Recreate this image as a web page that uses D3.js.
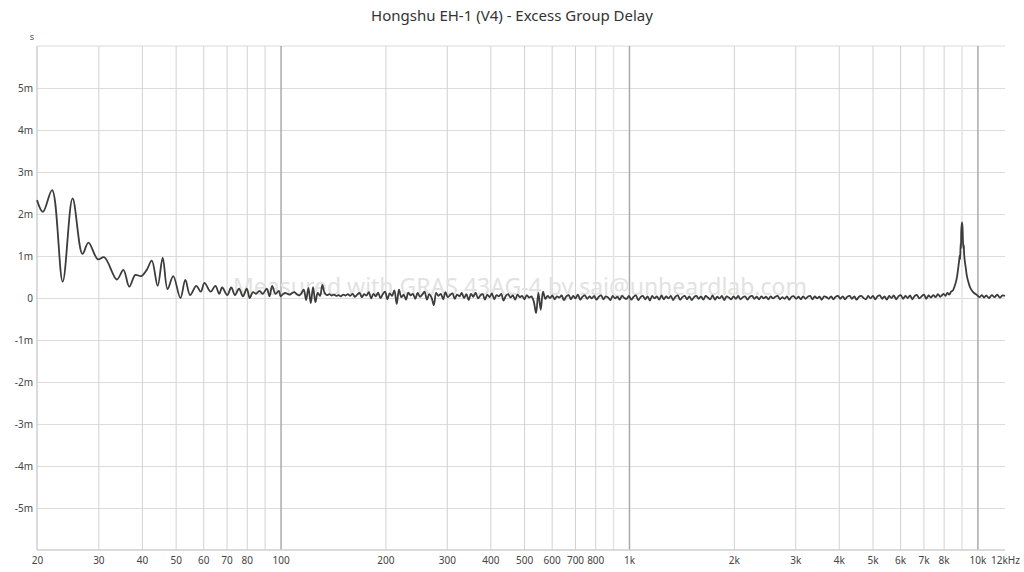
<!DOCTYPE html>
<html>
<head>
<meta charset="utf-8">
<script src="https://cdn.jsdelivr.net/npm/d3@7"></script>
<style>
  body { margin: 0; background: #fff; }
  svg { display: block; font-family: "Noto Sans", "Open Sans", sans-serif; }
</style>
</head>
<body>
<div id="chart"></div>
<script>
// chart values (delay in ms)
var lowHz = [20, 20.8, 22.1, 23.7, 25.3, 27.0, 28.1, 29.9, 31.2, 33.9, 35.4, 36.8, 38.3, 39.8,
  41.3, 42.7, 44.4, 45.9, 47.4, 49.2, 51.6, 53.3, 55, 57.3, 59, 60.5, 63, 65, 66.7, 68,
  70.3, 72.2, 74, 76, 78, 80, 81.6, 83.3, 85.1, 87, 88.9, 91.3, 93, 94.6, 96.7, 98.9];
var lowMs = [2.33, 2.05, 2.57, 0.39, 2.37, 1.05, 1.32, 0.92, 0.97, 0.44, 0.67, 0.27, 0.55, 0.52,
  0.67, 0.89, 0.29, 0.96, 0.21, 0.52, 0.00, 0.43, 0.07, 0.29, 0.15, 0.36, 0.15, 0.29, 0.10, 0.25,
  0.07, 0.25, 0.07, 0.22, 0.04, 0.22, 0.00, 0.14, 0.10, 0.17, 0.10, 0.22, 0.04, 0.29, 0.10, 0.17];

// measurement grid from 100 Hz, 150 points per decade
var gridStartHz = 100;
var gridPointsPerDecade = 150;
var noiseMs = [
  0.04, 0.09, 0.12, 0.10, 0.08, 0.12, 0.14, 0.09, 0.06, 0.11, 0.20, -0.05, 0.24, -0.12, 0.26,
  -0.10, 0.12, 0.05, 0.31, 0.12, 0.07, 0.09, 0.06, 0.08, 0.05, 0.07, 0.04, 0.08, 0.06, 0.09,
  0.05, 0.10, 0.03, 0.08, 0.12, 0.02, 0.09, 0.06, 0.14, -0.01, 0.10, 0.04, 0.13, 0.00, 0.09,
  0.15, -0.03, 0.11, 0.05, 0.18, -0.14, 0.20, 0.02, 0.08, -0.04, 0.13, 0.06, 0.10, -0.02, 0.12,
  0.03, 0.08, 0.15, -0.04, 0.09, 0.01, -0.17, 0.12, 0.05, 0.10, -0.03, 0.14, 0.02, 0.07, 0.11,
  -0.02, 0.08, 0.04, 0.12, 0.00, 0.09, -0.05, 0.10, 0.03, 0.13, -0.01, 0.06, 0.09, -0.04, 0.08,
  0.02, 0.11, -0.03, 0.07, 0.04, 0.10, -0.06, 0.05, 0.09, 0.01, 0.06, -0.04, 0.08, 0.02, 0.05,
  -0.03, 0.07, 0.01, 0.04, -0.08, -0.36, 0.12, -0.28, 0.15, -0.02, 0.05, 0.00, 0.06, -0.03, 0.04,
  0.01, 0.06, -0.05, 0.04, 0.07, -0.03, 0.05, -0.01, 0.08, -0.04, 0.03, 0.06, -0.02, 0.04, -0.01,
  0.05, -0.04, 0.03, 0.06, -0.03, 0.04, 0.01, -0.05, 0.05, -0.01, 0.03, -0.04, 0.05, 0.00, -0.02,
  0.05, -0.04, 0.03, 0.06, -0.05, 0.02, 0.05, -0.03, 0.04, -0.06, 0.05, -0.01, 0.04, -0.04, 0.06,
  -0.03, 0.04, -0.01, 0.05, -0.05, 0.03, 0.06, -0.04, 0.02, 0.05, -0.03, 0.04, -0.05, 0.02, 0.05,
  -0.02, 0.04, -0.04, 0.05, 0.01, -0.03, 0.06, -0.04, 0.03, -0.01, 0.05, -0.05, 0.04, 0.01, -0.03,
  0.04, -0.02, 0.05, -0.03, 0.02, 0.04, -0.04, 0.03, 0.05, -0.02, 0.03, -0.03, 0.04, -0.01, 0.03,
  -0.03, 0.04, -0.01, 0.03, 0.05, -0.03, 0.02, -0.02, 0.04, -0.04, 0.03, 0.04, -0.02, 0.03, -0.03,
  0.04, -0.02, 0.03, 0.05, -0.03, 0.04, -0.01, 0.03, -0.04, 0.04, 0.02, -0.02, 0.04, -0.03, 0.03,
  0.05, -0.02, 0.04, -0.03, 0.03, 0.05, -0.02, 0.04, -0.04, 0.03, 0.05, 0.00, -0.03, 0.05, -0.01,
  0.05, -0.03, 0.04, 0.06, -0.02, 0.04, -0.04, 0.05, 0.00, 0.06, -0.03, 0.04, 0.07, -0.02, 0.05,
  0.00, 0.06, -0.03, 0.05, 0.07, -0.01, 0.04, 0.08, -0.02, 0.06, 0.01, 0.07, 0.02, 0.09, 0.03
];

var peakHz = [7900, 8000, 8100, 8200, 8300, 8400, 8500, 8600, 8700, 8780, 8850, 8900, 8920,
  8950, 8970, 8990, 9030, 9060, 9090, 9120, 9140, 9160, 9200, 9260, 9330, 9420, 9520, 9640,
  9780, 9900, 10000, 10150, 10300, 10450, 10600, 10800, 11000, 11200, 11400, 11600, 11800, 12000];
var peakMs = [0.06, 0.10, 0.05, 0.12, 0.08, 0.15, 0.18, 0.28, 0.42, 0.62, 0.85, 1.02, 0.92,
  1.30, 1.18, 1.62, 1.80, 1.70, 1.35, 1.18, 1.26, 1.05, 0.88, 0.72, 0.52, 0.38, 0.26, 0.18,
  0.12, 0.09, 0.06, 0.02, 0.07, 0.01, 0.06, 0.00, 0.07, 0.02, 0.08, 0.01, 0.06, 0.05];

// axis ticks
var tickHz = [20, 30, 40, 50, 60, 70, 80, 100, 200, 300, 400, 500, 600, 700, 800,
  1000, 2000, 3000, 4000, 5000, 6000, 7000, 8000, 10000, 12000];
var tickLabels = ["20", "30", "40", "50", "60", "70", "80", "100", "200", "300", "400", "500",
  "600", "700", "800", "1k", "2k", "3k", "4k", "5k", "6k", "7k", "8k", "10k", "12kHz"];
var gridHz = [30, 40, 50, 60, 70, 80, 90, 200, 300, 400, 500, 600, 700, 800, 900,
  2000, 3000, 4000, 5000, 6000, 7000, 8000, 9000];
var majorHz = [100, 1000, 10000];
var yTicks = [-5, -4, -3, -2, -1, 0, 1, 2, 3, 4, 5];

var title = "Hongshu EH-1 (V4) - Excess Group Delay";
var watermark = "Measured with GRAS 43AG-4 by sai@unheardlab.com";

// basic setup
var svgWidth = 1024;
var svgHeight = 572;
var margin = { top: 46, right: 19, bottom: 22, left: 37 };
var width = svgWidth - margin.left - margin.right;
var height = svgHeight - margin.top - margin.bottom;

var svg = d3.select("#chart")
  .append("svg")
  .attr("width", svgWidth)
  .attr("height", svgHeight);

var chartGroup = svg.append("g")
  .attr("transform", `translate(${margin.left}, ${margin.top})`);

var xScale = d3.scaleLog().domain([20, 12000]).range([0, width]);
var yScale = d3.scaleLinear().domain([-6, 6]).range([height, 0]);

// build the series
var series = [];
lowHz.forEach(function(f, i) { series.push({ f: f, v: lowMs[i] }); });
noiseMs.forEach(function(v, i) {
  series.push({ f: gridStartHz * Math.pow(10, i / gridPointsPerDecade), v: v });
});
peakHz.forEach(function(f, i) { series.push({ f: f, v: peakMs[i] }); });

// horizontal grid
chartGroup.append("g")
  .call(d3.axisLeft(yScale).tickValues(yTicks).tickSize(-width).tickFormat(""))
  .call(g => g.select(".domain").remove())
  .selectAll("line").attr("stroke", "#dcdcdc");

// top border
chartGroup.append("line")
  .attr("x1", 0).attr("x2", width)
  .attr("y1", 0).attr("y2", 0)
  .attr("stroke", "#dcdcdc");

// vertical grid
chartGroup.append("g")
  .attr("transform", `translate(0, ${height})`)
  .call(d3.axisBottom(xScale).tickValues(gridHz).tickSize(-height).tickFormat(""))
  .call(g => g.select(".domain").remove())
  .selectAll("line")
  .attr("stroke", d => (d === 900 || d === 9000) ? "#e4e4e4" : "#d2d2d2")
  .attr("stroke-width", d => (d === 900 || d === 9000) ? 1.5 : 1);

chartGroup.append("g")
  .attr("transform", `translate(0, ${height})`)
  .call(d3.axisBottom(xScale).tickValues(majorHz).tickSize(-height).tickFormat(""))
  .call(g => g.select(".domain").remove())
  .selectAll("line").attr("stroke", "#ababab").attr("stroke-width", 1.5);

// watermark
chartGroup.append("text")
  .attr("x", xScale(1000) - 109)
  .attr("y", yScale(0) - 3)
  .attr("text-anchor", "middle")
  .attr("fill", "#e2e2e2")
  .style("font-size", "23px")
  .text(watermark);

// left and bottom axis lines
chartGroup.append("line")
  .attr("x1", 0).attr("x2", 0).attr("y1", 0).attr("y2", height)
  .attr("stroke", "#cfcfcf").attr("stroke-width", 1.5);
chartGroup.append("line")
  .attr("x1", 0).attr("x2", width).attr("y1", height).attr("y2", height)
  .attr("stroke", "#cfcfcf").attr("stroke-width", 1.5);

// x axis labels
var xAxis = chartGroup.append("g")
  .attr("transform", `translate(0, ${height})`)
  .call(d3.axisBottom(xScale).tickValues(tickHz).tickSize(0).tickPadding(7)
    .tickFormat((d, i) => tickLabels[i]));
xAxis.select(".domain").remove();
xAxis.selectAll("text").attr("fill", "#444").style("font-size", "10px")
  .style("font-family", "'Noto Sans', sans-serif");

// y axis labels
var yAxis = chartGroup.append("g")
  .call(d3.axisLeft(yScale).tickValues(yTicks).tickSize(0).tickPadding(4)
    .tickFormat(d => d === 0 ? "0" : d + "m"));
yAxis.select(".domain").remove();
yAxis.selectAll("text").attr("fill", "#444").style("font-size", "10px")
  .style("font-family", "'Noto Sans', sans-serif");

// unit label
svg.append("text")
  .attr("x", 32).attr("y", 40)
  .attr("text-anchor", "middle")
  .attr("fill", "#555")
  .style("font-size", "9px")
  .text("s");

// the delay curve
var line = d3.line()
  .x(d => xScale(d.f))
  .y(d => yScale(d.v))
  .curve(d3.curveCatmullRom.alpha(0.5));

chartGroup.append("path")
  .datum(series)
  .attr("fill", "none")
  .attr("stroke", "#3c3c3c")
  .attr("stroke-width", 1.8)
  .attr("stroke-linejoin", "round")
  .attr("d", line);

// title
svg.append("text")
  .attr("x", svgWidth / 2)
  .attr("y", 21)
  .attr("text-anchor", "middle")
  .attr("fill", "#333")
  .style("font-size", "15px")
  .text(title);
</script>
</body>
</html>
